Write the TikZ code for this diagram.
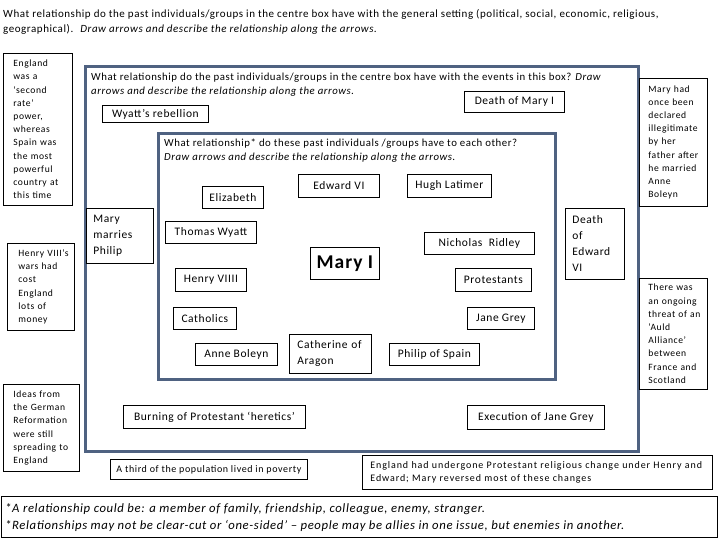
\documentclass[tikz,border=0pt]{standalone}
\usepackage{fontspec}
\setmainfont{Carlito}[LetterSpace=5]
\newfontfamily\lsfont[LetterSpace=6]{Carlito}
\newfontfamily\lsfontwide[LetterSpace=9]{Carlito}
\definecolor{frameblue}{RGB}{79,98,129}
\begin{document}
\begin{tikzpicture}[x=1pt,y=-1pt,
  box/.style={draw=black, line width=0.8pt, fill=white, inner sep=0pt, anchor=north west, font=\fontsize{11.5}{16}\selectfont},
  mbox/.style={draw=black, line width=0.8pt, fill=white, anchor=north west, align=left, inner ysep=0pt, font=\fontsize{11.5}{16}\selectfont},
  sidebox/.style={draw=black, line width=0.8pt, fill=white, anchor=north west, align=left, inner ysep=0pt, font=\fontsize{9.6}{13.2}\lsfont},
  frame/.style={draw=frameblue, line width=3pt, anchor=north west, inner sep=0pt},
  txt/.style={anchor=base west, inner sep=0pt, font=\fontsize{11}{15}\selectfont},
  foot/.style={anchor=base west, inner sep=0pt, font=\fontsize{12.7}{17}\itshape}
]
\useasboundingbox (0,0) rectangle (720,540);
\fill[white] (0,0) rectangle (720,540);

% top instruction
\node[txt] (top1) at (3,18) {What relationship do the past individuals/groups in the centre box have with the general setting (political, social, economic, religious,};
\node[txt] (top2) at (3,33) {geographical). \ \textit{Draw arrows and describe the relationship along the arrows.}};

% frames
\node[frame, minimum width=553, minimum height=385] (outer) at (84,65) {};
\node[frame, minimum width=397, minimum height=246] (inner) at (157,132) {};

% outer text
\node[txt, font=\fontsize{10.8}{15}\selectfont] (out1) at (91,81) {What relationship do the past individuals/groups in the centre box have with the events in this box? \textit{Draw}};
\node[txt, font=\fontsize{10.8}{15}\selectfont] (out2) at (91,95) {\textit{arrows and describe the relationship along the arrows.}};

% inner text
\node[txt, font=\fontsize{10.8}{15}\selectfont] (in1) at (164,147) {What relationship* do these past individuals /groups have to each other?};
\node[txt, font=\fontsize{10.8}{15}\selectfont] (in2) at (164,161) {\textit{Draw arrows and describe the relationship along the arrows.}};

% side boxes (general setting)
\node[sidebox, inner xsep=10pt, text width=49pt, minimum height=152] (england) at (3,53) {England\\was~a\\‘second\\rate’\\power,\\whereas\\Spain~was\\the~most\\powerful\\country~at\\this~time};
\node[sidebox, inner xsep=11pt, text width=45pt, minimum height=87] (henry8wars) at (7,243) {Henry~VIII’s\\wars~had\\cost\\England\\lots~of\\money};
\node[sidebox, inner xsep=10pt, text width=56pt, minimum height=87] (ideas) at (3,384) {Ideas~from\\the~German\\Reformation\\were~still\\spreading~to\\England};
\node[sidebox, inner xsep=9pt, text width=50pt, minimum height=128] (illeg) at (639,78) {Mary~had\\once~been\\declared\\illegitimate\\by~her\\father~after\\he~married\\Anne\\Boleyn};
\node[sidebox, inner xsep=9pt, text width=50pt, minimum height=111] (auld) at (639,278) {There~was\\an~ongoing\\threat~of~an\\‘Auld\\Alliance’\\between\\France~and\\Scotland};

\node[box, font=\fontsize{10}{13}\lsfont, minimum width=197, minimum height=20] (poverty) at (110,459) {A third of the population lived in poverty};
\node[sidebox, font=\fontsize{10}{13}\lsfontwide, inner xsep=8pt, text width=334pt, minimum height=34] (change) at (362,455) {England~had~undergone~Protestant~religious~change~under~Henry~and\\Edward;~Mary~reversed~most~of~these~changes};

% events
\node[box, minimum width=106, minimum height=17] (wyattreb) at (102,105) {Wyatt’s rebellion};
\node[box, minimum width=100, minimum height=21] (deathmary) at (464,91) {Death of Mary I};
\node[mbox, inner xsep=7pt, text width=53pt, minimum height=55] (marries) at (86,208) {Mary\\marries\\Philip};
\node[mbox, inner xsep=7pt, text width=45pt, minimum height=71] (deathedward) at (565,208) {Death\\of\\Edward\\VI};
\node[box, minimum width=182, minimum height=23] (burning) at (123,405) {Burning of Protestant ‘heretics’};
\node[box, minimum width=137, minimum height=24] (execution) at (467,405) {Execution of Jane Grey};

% individuals
\node[box, minimum width=61, minimum height=22] (elizabeth) at (202,186) {Elizabeth};
\node[box, minimum width=81, minimum height=23] (edward) at (298,174) {Edward VI};
\node[box, minimum width=84, minimum height=23] (latimer) at (407,174) {Hugh Latimer};
\node[box, minimum width=91, minimum height=22] (twyatt) at (165,221) {Thomas Wyatt};
\node[box, minimum width=110, minimum height=22] (ridley) at (424,232) {Nicholas\ \ Ridley};
\node[box, minimum width=69, minimum height=32, font=\fontsize{19.5}{22}\bfseries] (mary) at (310,247) {Mary I};
\node[box, minimum width=71, minimum height=23] (henry) at (175,268) {Henry VIIII};
\node[box, minimum width=76, minimum height=23] (protestants) at (455,268) {Protestants};
\node[box, minimum width=63, minimum height=22] (catholics) at (173,307) {Catholics};
\node[box, minimum width=67, minimum height=22] (jane) at (467,307) {Jane Grey};
\node[box, minimum width=82, minimum height=22] (anne) at (195,343) {Anne Boleyn};
\node[mbox, inner xsep=8pt, text width=66pt, minimum height=39] (catherine) at (289,334) {Catherine~of\\Aragon};
\node[box, minimum width=90, minimum height=22] (philip) at (389,343) {Philip of Spain};

% footer
\node[draw=black, line width=0.8pt, anchor=north west, inner sep=0pt, minimum width=716, minimum height=41] (footer) at (1,496) {};
\node[foot] (foot1) at (5,512) {*A relationship could be: a member of family, friendship, colleague, enemy, stranger.};
\node[foot] (foot2) at (5,529) {*Relationships may not be clear-cut or ‘one-sided’ – people may be allies in one issue, but enemies in another.};
\end{tikzpicture}
\end{document}
